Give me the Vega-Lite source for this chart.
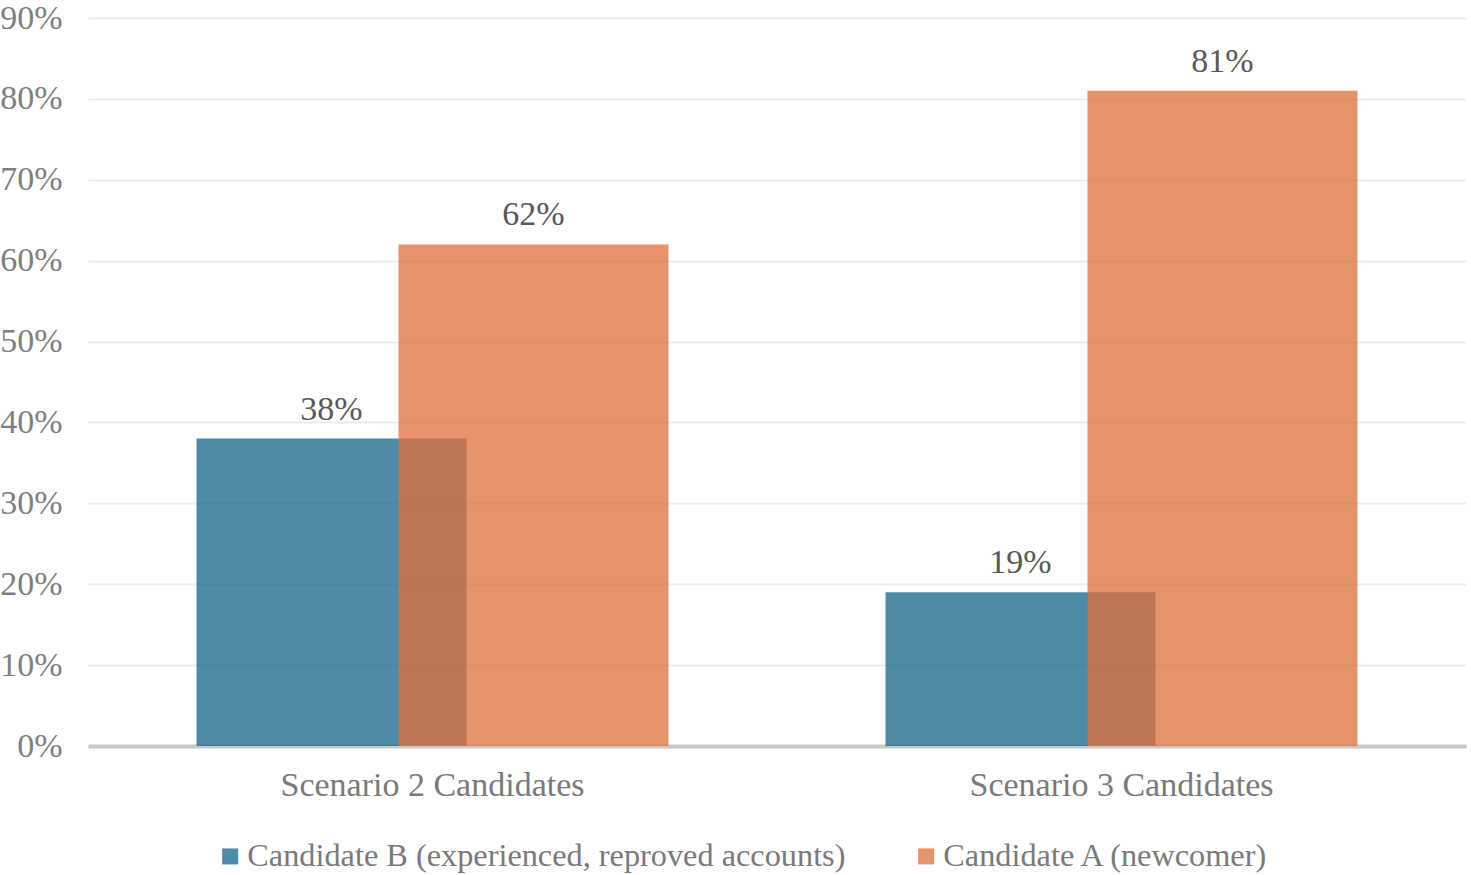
{
  "$schema": "https://vega.github.io/schema/vega-lite/v6.json",
  "width": 1378,
  "height": 728,
  "autosize": {"type": "none"},
  "padding": {"left": 88, "top": 18, "right": 5, "bottom": 129},
  "background": "white",
  "config": {
    "font": "Liberation Serif",
    "view": {"stroke": null},
    "axis": {"labelFont": "Liberation Serif"},
    "legend": {"labelFont": "Liberation Serif"},
    "text": {"font": "Liberation Serif"}
  },
  "data": {
    "values": [
      {"scenario": "Scenario 2 Candidates", "candidate": "Candidate B (experienced, reproved accounts)", "share": 0.38},
      {"scenario": "Scenario 2 Candidates", "candidate": "Candidate A (newcomer)", "share": 0.62},
      {"scenario": "Scenario 3 Candidates", "candidate": "Candidate B (experienced, reproved accounts)", "share": 0.19},
      {"scenario": "Scenario 3 Candidates", "candidate": "Candidate A (newcomer)", "share": 0.81}
    ]
  },
  "encoding": {
    "x": {
      "field": "scenario",
      "type": "nominal",
      "sort": null,
      "title": null,
      "scale": {"paddingInner": 0, "paddingOuter": 0},
      "axis": {
        "labelAngle": 0,
        "labelFont": "Liberation Serif",
        "labelFontSize": 34,
        "labelColor": "#7a7a7a",
        "labelPadding": 22,
        "labelLimit": 600,
        "ticks": false,
        "domainColor": "#c8c8c8",
        "domainWidth": 4
      }
    },
    "y": {
      "field": "share",
      "type": "quantitative",
      "title": null,
      "scale": {"domain": [0, 0.9]},
      "axis": {
        "values": [0, 0.1, 0.2, 0.3, 0.4, 0.5, 0.6, 0.7, 0.8, 0.9],
        "format": ".0%",
        "labelFont": "Liberation Serif",
        "labelFontSize": 34,
        "labelColor": "#7f7f7f",
        "labelPadding": 26,
        "domain": false,
        "ticks": false,
        "gridColor": "#ebebeb",
        "gridWidth": 2
      }
    }
  },
  "layer": [
    {
      "transform": [{"filter": "datum.candidate === 'Candidate B (experienced, reproved accounts)'"}],
      "mark": {"type": "bar", "width": 270, "xOffset": -101, "opacity": 0.76},
      "encoding": {
        "color": {
          "field": "candidate",
          "type": "nominal",
          "scale": {
            "domain": ["Candidate B (experienced, reproved accounts)", "Candidate A (newcomer)"],
            "range": ["#18658a", "#de703c"]
          },
          "legend": {
            "title": null,
            "orient": "none",
            "legendX": 126,
            "legendY": 822,
            "direction": "horizontal",
            "symbolType": "square",
            "symbolSize": 256,
            "symbolOpacity": 0.76,
            "symbolStrokeWidth": 0,
            "labelFont": "Liberation Serif",
            "labelFontSize": 32.3,
            "labelColor": "#7a7a7a",
            "labelLimit": 800,
            "labelOffset": 1,
            "columnPadding": 64
          }
        }
      }
    },
    {
      "transform": [{"filter": "datum.candidate === 'Candidate A (newcomer)'"}],
      "mark": {"type": "bar", "width": 270, "xOffset": 101, "opacity": 0.76},
      "encoding": {
        "color": {"field": "candidate", "type": "nominal"}
      }
    },
    {
      "transform": [{"filter": "datum.candidate === 'Candidate B (experienced, reproved accounts)'"}],
      "mark": {"type": "text", "font": "Liberation Serif", "xOffset": -101, "baseline": "bottom", "dy": -12, "fontSize": 34, "color": "#595959"},
      "encoding": {
        "text": {"field": "share", "type": "quantitative", "format": ".0%"}
      }
    },
    {
      "transform": [{"filter": "datum.candidate === 'Candidate A (newcomer)'"}],
      "mark": {"type": "text", "font": "Liberation Serif", "xOffset": 101, "baseline": "bottom", "dy": -12, "fontSize": 34, "color": "#595959"},
      "encoding": {
        "text": {"field": "share", "type": "quantitative", "format": ".0%"}
      }
    }
  ]
}
